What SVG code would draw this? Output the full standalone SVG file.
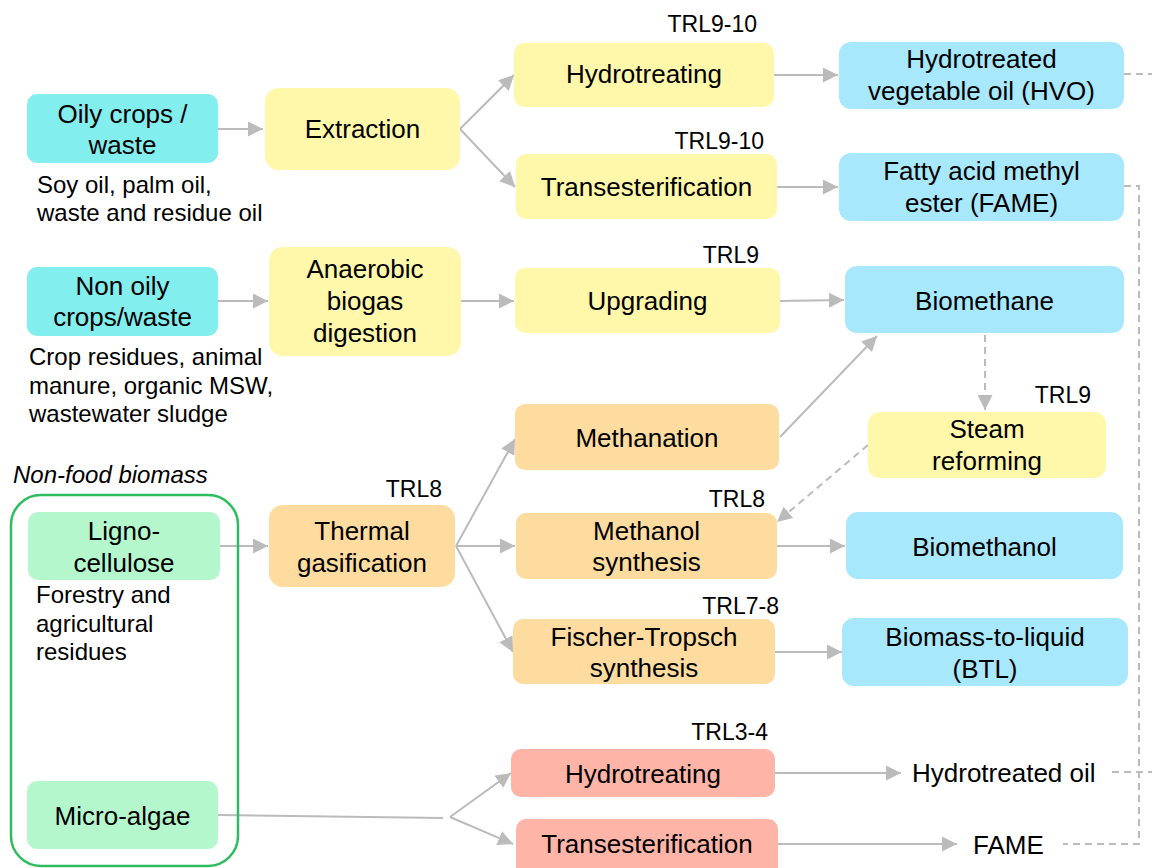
<svg xmlns="http://www.w3.org/2000/svg" width="1152" height="868" viewBox="0 0 1152 868">
<defs>
<marker id="ah" markerUnits="userSpaceOnUse" markerWidth="15" markerHeight="15" refX="15" refY="7.5" orient="auto">
<path d="M0,0 L15,7.5 L0,15 z" fill="#BBBBBB"/>
</marker>
<style>
text{font-family:"Liberation Sans",Arial,sans-serif;fill:#000}
.t{font-size:26px;text-anchor:middle}
.s{font-size:24px}
.trl{font-size:23px;text-anchor:end}
.cy{fill:#82EEEE}
.ye{fill:#FFF8AA}
.bl{fill:#A8E8FC}
.or{fill:#FEDCA0}
.gr{fill:#B4F7CC}
.rd{fill:#FFB4A8}
.c{fill:none;stroke:#BBBBBB;stroke-width:2}
.a{marker-end:url(#ah)}
.d{stroke-dasharray:7 5}
</style>
</defs>
<rect width="1152" height="868" fill="#FFFFFF"/>

<g id="connectors">
<path class="c a" d="M218,129 H263"/>
<path class="c a" d="M460,129 L514,75"/>
<path class="c a" d="M460,129 L515,187"/>
<path class="c a" d="M774,75 H838"/>
<path class="c a" d="M777,187 H838"/>
<path class="c d" d="M1124,74 H1152"/>
<path class="c d" d="M1124,186 H1139 V844 H1063"/>
<path class="c d" d="M1112,772 H1152"/>
<path class="c a" d="M218,301 H268"/>
<path class="c a" d="M461,301 H514"/>
<path class="c a" d="M780,301 L844,300"/>
<path class="c a" d="M780,437 L877,336"/>
<path class="c a d" d="M985,335 V410"/>
<path class="c a d" d="M868,445 L777,522"/>
<path class="c a" d="M220,546 H268"/>
<path class="c a" d="M456,546 L515,439"/>
<path class="c a" d="M456,546 H515"/>
<path class="c a" d="M456,546 L513,652"/>
<path class="c a" d="M777,546 H845"/>
<path class="c a" d="M775,652 H842"/>
<path class="c" d="M218,815 L443,818"/>
<path class="c a" d="M450,817 L511,773"/>
<path class="c a" d="M450,817 L513,844"/>
<path class="c a" d="M775,773 H901"/>
<path class="c a" d="M778,844 H957"/>
</g>

<g id="oily">
<rect class="cy" x="27" y="94" width="191" height="69" rx="10"/>
<text class="t" x="122.5" y="123">Oily crops /</text>
<text class="t" x="122.5" y="154">waste</text>
<text class="s" x="37" y="193">Soy oil, palm oil,</text>
<text class="s" x="37" y="221">waste and residue oil</text>
</g>
<g id="extraction">
<rect class="ye" x="265" y="88" width="195" height="82" rx="14"/>
<text class="t" x="362.5" y="138">Extraction</text>
</g>
<g id="hydrotreating1">
<rect class="ye" x="514" y="43" width="260" height="64" rx="10"/>
<text class="t" x="644" y="83">Hydrotreating</text>
<text class="trl" x="757" y="32">TRL9-10</text>
</g>
<g id="transesterification1">
<rect class="ye" x="516" y="154" width="261" height="65" rx="10"/>
<text class="t" x="646.5" y="196">Transesterification</text>
<text class="trl" x="764" y="149">TRL9-10</text>
</g>
<g id="hvo">
<rect class="bl" x="839" y="42" width="285" height="67" rx="12"/>
<text class="t" x="981.5" y="68">Hydrotreated</text>
<text class="t" x="981.5" y="100">vegetable oil (HVO)</text>
</g>
<g id="fame1">
<rect class="bl" x="839" y="153" width="285" height="68" rx="12"/>
<text class="t" x="981.5" y="180">Fatty acid methyl</text>
<text class="t" x="981.5" y="212">ester (FAME)</text>
</g>
<g id="nonoily">
<rect class="cy" x="27" y="267" width="191" height="69" rx="10"/>
<text class="t" x="122.5" y="295">Non oily</text>
<text class="t" x="122.5" y="326">crops/waste</text>
<text class="s" x="29" y="365">Crop residues, animal</text>
<text class="s" x="29" y="394">manure, organic MSW,</text>
<text class="s" x="29" y="422">wastewater sludge</text>
</g>
<g id="anaerobic">
<rect class="ye" x="269" y="247" width="192" height="109" rx="14"/>
<text class="t" x="365" y="278">Anaerobic</text>
<text class="t" x="365" y="310">biogas</text>
<text class="t" x="365" y="342">digestion</text>
</g>
<g id="upgrading">
<rect class="ye" x="515" y="268" width="265" height="65" rx="10"/>
<text class="t" x="647.5" y="310">Upgrading</text>
<text class="trl" x="759" y="263">TRL9</text>
</g>
<g id="biomethane">
<rect class="bl" x="845" y="266" width="279" height="67" rx="12"/>
<text class="t" x="984.5" y="310">Biomethane</text>
</g>
<g id="methanation">
<rect class="or" x="515" y="404" width="264" height="66" rx="10"/>
<text class="t" x="647" y="447">Methanation</text>
</g>
<g id="steam">
<rect class="ye" x="868" y="412" width="238" height="66" rx="12"/>
<text class="t" x="987" y="438">Steam</text>
<text class="t" x="987" y="470">reforming</text>
<text class="trl" x="1091" y="403">TRL9</text>
</g>
<g id="nonfood">
<text x="13" y="483" style="font-size:24px;font-style:italic">Non-food biomass</text>
<rect x="11" y="495" width="227" height="371" rx="30" fill="none" stroke="#2DBD5E" stroke-width="2.5"/>
</g>
<g id="ligno">
<rect class="gr" x="28" y="512" width="192" height="68" rx="10"/>
<text class="t" x="124" y="540">Ligno-</text>
<text class="t" x="124" y="572">cellulose</text>
<text class="s" x="36" y="603">Forestry and</text>
<text class="s" x="36" y="632">agricultural</text>
<text class="s" x="36" y="660">residues</text>
</g>
<g id="microalgae">
<rect class="gr" x="27" y="781" width="191" height="68" rx="10"/>
<text class="t" x="122.5" y="825">Micro-algae</text>
</g>
<g id="thermal">
<rect class="or" x="269" y="505" width="186" height="82" rx="14"/>
<text class="t" x="362" y="540">Thermal</text>
<text class="t" x="362" y="572">gasification</text>
<text class="trl" x="442" y="497">TRL8</text>
</g>
<g id="methanol">
<rect class="or" x="516" y="513" width="261" height="66" rx="10"/>
<text class="t" x="646.5" y="540">Methanol</text>
<text class="t" x="646.5" y="571">synthesis</text>
<text class="trl" x="765" y="507">TRL8</text>
</g>
<g id="biomethanol">
<rect class="bl" x="846" y="512" width="277" height="67" rx="12"/>
<text class="t" x="984.5" y="556">Biomethanol</text>
</g>
<g id="ft">
<rect class="or" x="513" y="619" width="262" height="65" rx="10"/>
<text class="t" x="644" y="646">Fischer-Tropsch</text>
<text class="t" x="644" y="677">synthesis</text>
<text class="trl" x="779" y="614">TRL7-8</text>
</g>
<g id="btl">
<rect class="bl" x="842" y="618" width="286" height="68" rx="12"/>
<text class="t" x="985" y="646">Biomass-to-liquid</text>
<text class="t" x="985" y="678">(BTL)</text>
</g>
<g id="hydrotreating2">
<rect class="rd" x="511" y="749" width="264" height="48" rx="10"/>
<text class="t" x="643" y="783">Hydrotreating</text>
<text class="trl" x="768" y="740">TRL3-4</text>
</g>
<g id="transesterification2">
<rect class="rd" x="516" y="819" width="262" height="62" rx="10"/>
<text class="t" x="647" y="853">Transesterification</text>
</g>
<g id="hydrotreatedoil">
<text x="912" y="782" style="font-size:26px">Hydrotreated oil</text>
</g>
<g id="fame2">
<text x="973" y="854" style="font-size:26px">FAME</text>
</g>
</svg>
